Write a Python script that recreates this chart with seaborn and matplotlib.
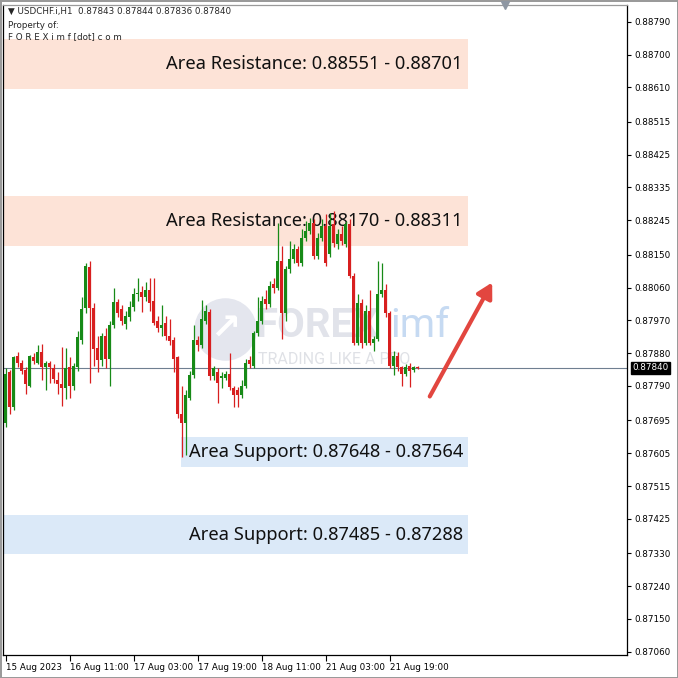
import numpy as np
import pandas as pd
import seaborn as sns
import matplotlib.pyplot as plt
from matplotlib.patches import FancyArrowPatch

# --- data (USDCHF H1) ---
header = "\u25BC USDCHF.i,H1  0.87843 0.87844 0.87836 0.87840"

opens = [0.87687, 0.87827, 0.87731, 0.87871, 0.87852, 0.87835, 0.87791, 0.87868, 0.87854, 0.87882,
         0.87841, 0.87852, 0.87838, 0.87805, 0.87794, 0.87783, 0.87841, 0.87791, 0.87841, 0.87915,
         0.88005, 0.88117, 0.88005, 0.87895, 0.87860, 0.87926, 0.87865, 0.87958, 0.88021, 0.88002,
         0.87961, 0.87978, 0.88008, 0.88041, 0.88049, 0.88035, 0.88054, 0.88024, 0.87969, 0.87950,
         0.87964, 0.87926, 0.87915, 0.87868, 0.87714, 0.87687, 0.87758, 0.87821, 0.87917, 0.87901,
         0.87969, 0.87994, 0.87816, 0.87827, 0.87813, 0.87813, 0.87824, 0.87783, 0.87778, 0.87764,
         0.87791, 0.87860, 0.87846, 0.87934, 0.87969, 0.88030, 0.88016, 0.88071, 0.88060, 0.88134,
         0.87991, 0.88112, 0.88139, 0.88167, 0.88128, 0.88197, 0.88216, 0.88238, 0.88148, 0.88197,
         0.88230, 0.88153, 0.88235, 0.88181, 0.88208, 0.88181, 0.88235, 0.88093, 0.87909, 0.88019,
         0.87909, 0.87997, 0.87909, 0.87920, 0.88043, 0.88052, 0.87991, 0.87846, 0.87873, 0.87841,
         0.87824, 0.87846, 0.87835, 0.87843]
highs = [0.87838, 0.87835, 0.87873, 0.87882, 0.87860, 0.87841, 0.87876, 0.87879, 0.87901, 0.87906,
         0.87857, 0.87857, 0.87849, 0.87827, 0.87898, 0.87893, 0.87868, 0.87854, 0.87942, 0.88035,
         0.88128, 0.88134, 0.88019, 0.87928, 0.87934, 0.87948, 0.87969, 0.88060, 0.88030, 0.88011,
         0.87997, 0.88024, 0.88060, 0.88085, 0.88065, 0.88074, 0.88087, 0.88087, 0.87983, 0.88011,
         0.87983, 0.87975, 0.87923, 0.87873, 0.87791, 0.87778, 0.87832, 0.87956, 0.87928, 0.88027,
         0.88011, 0.88002, 0.87846, 0.87838, 0.87827, 0.87832, 0.87879, 0.87791, 0.87786, 0.87805,
         0.87865, 0.87873, 0.87942, 0.88033, 0.88038, 0.88052, 0.88079, 0.88085, 0.88238, 0.88175,
         0.88120, 0.88189, 0.88181, 0.88175, 0.88222, 0.88244, 0.88252, 0.88249, 0.88211, 0.88249,
         0.88263, 0.88266, 0.88271, 0.88222, 0.88230, 0.88244, 0.88249, 0.88101, 0.88043, 0.88030,
         0.88011, 0.88052, 0.87928, 0.88134, 0.88128, 0.88071, 0.87997, 0.87887, 0.87882, 0.87846,
         0.87849, 0.87854, 0.87846, 0.87844]
lows = [0.87676, 0.87714, 0.87723, 0.87841, 0.87824, 0.87769, 0.87786, 0.87849, 0.87849, 0.87805,
        0.87780, 0.87799, 0.87797, 0.87769, 0.87736, 0.87753, 0.87756, 0.87778, 0.87832, 0.87906,
        0.87989, 0.87799, 0.87846, 0.87827, 0.87846, 0.87838, 0.87791, 0.87950, 0.87980, 0.87956,
        0.87945, 0.87969, 0.87997, 0.88024, 0.87994, 0.88024, 0.87997, 0.87956, 0.87939, 0.87928,
        0.87915, 0.87901, 0.87827, 0.87701, 0.87594, 0.87599, 0.87750, 0.87813, 0.87887, 0.87893,
        0.87961, 0.87805, 0.87805, 0.87742, 0.87783, 0.87805, 0.87778, 0.87731, 0.87731, 0.87756,
        0.87783, 0.87838, 0.87838, 0.87926, 0.87961, 0.88002, 0.88008, 0.88046, 0.88052, 0.87920,
        0.87969, 0.88101, 0.88128, 0.88120, 0.88120, 0.88189, 0.88208, 0.88139, 0.88139, 0.88189,
        0.88120, 0.88145, 0.88172, 0.88167, 0.88178, 0.88172, 0.88085, 0.87901, 0.87901, 0.87895,
        0.87901, 0.87901, 0.87887, 0.87912, 0.88035, 0.87980, 0.87838, 0.87819, 0.87832, 0.87791,
        0.87816, 0.87786, 0.87827, 0.87836]
closes = [0.87824, 0.87731, 0.87868, 0.87852, 0.87832, 0.87794, 0.87871, 0.87857, 0.87884, 0.87843,
          0.87852, 0.87841, 0.87808, 0.87794, 0.87783, 0.87838, 0.87791, 0.87846, 0.87923, 0.88002,
          0.88120, 0.88005, 0.87890, 0.87860, 0.87926, 0.87863, 0.87958, 0.88021, 0.87989, 0.87969,
          0.87983, 0.88008, 0.88043, 0.88046, 0.88033, 0.88052, 0.88019, 0.87964, 0.87950, 0.87958,
          0.87926, 0.87912, 0.87865, 0.87712, 0.87687, 0.87764, 0.87821, 0.87917, 0.87901, 0.87975,
          0.87997, 0.87816, 0.87838, 0.87797, 0.87814, 0.87824, 0.87786, 0.87764, 0.87764, 0.87791,
          0.87854, 0.87849, 0.87934, 0.87969, 0.88024, 0.88016, 0.88065, 0.88060, 0.88134, 0.87991,
          0.88112, 0.88139, 0.88167, 0.88128, 0.88197, 0.88216, 0.88238, 0.88148, 0.88197, 0.88230,
          0.88128, 0.88230, 0.88183, 0.88208, 0.88189, 0.88235, 0.88093, 0.87909, 0.88019, 0.87909,
          0.87997, 0.87909, 0.87920, 0.88043, 0.88052, 0.87991, 0.87846, 0.87873, 0.87841, 0.87824,
          0.87841, 0.87832, 0.87841, 0.87840]

time_tick_pos = [0, 16, 32, 48, 64, 80, 96]
time_tick_labels = ["15 Aug 2023", "16 Aug 11:00", "17 Aug 03:00", "17 Aug 19:00",
                    "18 Aug 11:00", "21 Aug 03:00", "21 Aug 19:00"]
price_ticks = [0.88790, 0.88700, 0.88610, 0.88515, 0.88425, 0.88335, 0.88245, 0.88150,
               0.88060, 0.87970, 0.87880, 0.87790, 0.87695, 0.87605, 0.87515, 0.87425,
               0.87330, 0.87240, 0.87150, 0.87060]
last_price = 0.87840

zone_lows = [0.88606, 0.88175, 0.87566, 0.87328]
zone_highs = [0.88743, 0.88312, 0.87651, 0.87435]
zone_starts = [-0.7, -0.7, 43.8, -0.7]
zone_end = 115.6
zone_labels = ["Area Resistance: 0.88551 - 0.88701", "Area Resistance: 0.88170 - 0.88311",
               "Area Support: 0.87648 - 0.87564", "Area Support: 0.87485 - 0.87288"]
zone_colors = ["#fde3d7", "#fde3d7", "#dbe9f8", "#dbe9f8"]

arrow_start = (106, 0.87761)
arrow_end = (121.6, 0.88074)

df = pd.DataFrame({"open": opens, "high": highs, "low": lows, "close": closes})
df["bar"] = np.arange(len(df))
df["up"] = df["close"] >= df["open"]

sns.set_theme(style="white")
plt.rcParams["font.family"] = ["DejaVu Sans"]

W = 678
fig = plt.figure(figsize=(6.78, 6.78), dpi=100)
ax = fig.add_axes([3 / W, 23 / W, 624 / W, 650 / W])
ax.set_xlim(-0.675, 155.3)
ax.set_ylim(0.87051, 0.88836)

# zones
for lo, hi, x0, lab, col in zip(zone_lows, zone_highs, zone_starts, zone_labels, zone_colors):
    ax.fill_between([x0, zone_end], lo, hi, color=col, lw=0, zorder=1)
    ax.text(zone_end - 1.3, (lo + hi) / 2, lab, ha="right", va="center",
            fontsize=13.2, family="Noto Sans", color="#111111", zorder=2)

# watermark (faint, behind the candles)
ax.plot([54.8], [0.87945], marker="o", markersize=44, color="#e4e6ee", zorder=1.5)
ax.text(54.8, 0.87945, "\u2197", fontsize=26, color="white", ha="center", va="center",
        fontweight="bold", zorder=1.6)
ax.text(62.5, 0.87955, "FOREX", fontsize=29, fontweight="bold", family="Roboto",
        color="#e1e3ea", ha="left", va="center", zorder=1.5)
ax.text(96.0, 0.87955, "imf", fontsize=29, family="Roboto",
        color="#c6daf2", ha="left", va="center", zorder=1.5)
ax.text(63.0, 0.87863, "TRADING LIKE A PRO", fontsize=11.5, family="Roboto",
        color="#dfe1e6", ha="left", va="center", zorder=1.5)

# current price line
ax.axhline(last_price, color="#6f7f91", lw=0.8, zorder=2.5)

# candles
col_up, col_dn = "#178a17", "#d81f1f"
colors = np.where(df["up"], col_up, col_dn)
ax.vlines(df["bar"], df["low"], df["high"], colors=colors, lw=0.9, zorder=3)
body_lo = np.minimum(df["open"], df["close"])
body_h = np.maximum((df["close"] - df["open"]).abs(), 0.00003)
ax.bar(df["bar"], body_h, bottom=body_lo, width=0.72, color=colors, lw=0, zorder=4)

# arrow
ax.add_patch(FancyArrowPatch(arrow_start, arrow_end, arrowstyle="-|>,head_length=9,head_width=5",
                             color="#e2463f", lw=3, zorder=5, shrinkA=0, shrinkB=0))

# axes look
for s in ["left", "bottom", "right", "top"]:
    ax.spines[s].set_color("black")
    ax.spines[s].set_linewidth(0.9)
ax.spines["top"].set_color("#9a9a9a")
ax.yaxis.tick_right()
ax.set_yticks(price_ticks)
ax.set_yticklabels([f"{p:.5f}" for p in price_ticks])
ax.set_xticks(time_tick_pos)
ax.set_xticklabels(time_tick_labels, ha="left")
ax.tick_params(axis="y", right=True, direction="out", length=3, width=0.8, pad=2,
               labelsize=6.3, colors="black")
ax.tick_params(axis="x", bottom=True, direction="out", length=4, width=0.8, pad=2,
               labelsize=6.3, colors="black")
ax.set_xlabel("")
ax.set_ylabel("")

# last price tag
ax.annotate(f"{last_price:.5f}", xy=(1.0, last_price), xycoords=("axes fraction", "data"),
            xytext=(4, 0), textcoords="offset points", ha="left", va="center",
            fontsize=6.3, color="white",
            bbox=dict(boxstyle="square,pad=0.15", fc="black", ec="black"), annotation_clip=False)

# chart shift marker
ax.plot([0.804], [1.0], marker="v", markersize=6, color="#8e97a3",
        transform=ax.transAxes, clip_on=False, zorder=6)

# header text
fig.text(8 / W, 1 - 11 / W, header, fontsize=6.3, va="center", ha="left")
fig.text(8 / W, 1 - 25 / W, "Property of:", fontsize=6.3, va="center", ha="left")
fig.text(8 / W, 1 - 37 / W, "F O R E X i m f [dot] c o m", fontsize=6.3, va="center", ha="left")

fig.patch.set_edgecolor("#9a9a9a")
fig.patch.set_linewidth(2)
fig.savefig("out.png", dpi=100)
